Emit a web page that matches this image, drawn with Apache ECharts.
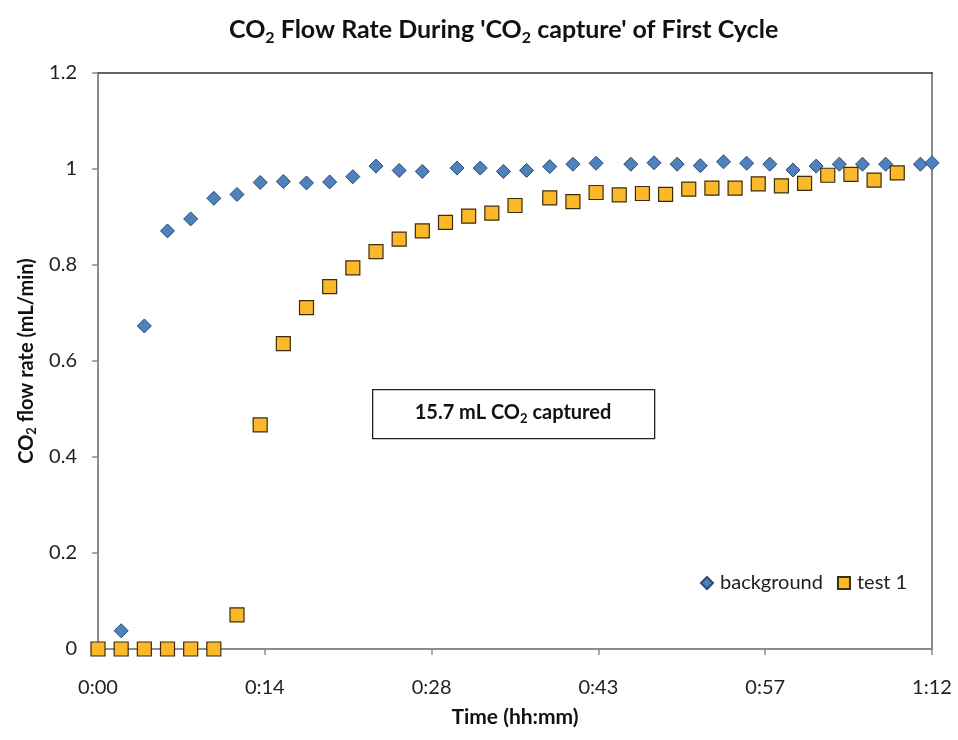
<!DOCTYPE html>
<html>
<head>
<meta charset="utf-8">
<script src="https://cdn.jsdelivr.net/npm/echarts@6/dist/echarts.min.js"></script>
<style>html,body{margin:0;padding:0;background:#fff;}#c{width:958px;height:740px;}</style>
</head>
<body>
<div id="c"></div>
<script>
// Time in minutes since start of capture
const bgTime = [2,4,6,8,10,12,14,16,18,20,22,24,26,28,31,33,35,37,39,41,43,46,48,50,52,54,56,58,60,62,64,66,68,71,72];
const bgFlow = [0.038,0.673,0.871,0.896,0.939,0.947,0.972,0.974,0.971,0.973,0.984,1.006,0.997,0.995,1.002,1.002,0.995,0.997,1.005,1.010,1.012,1.010,1.013,1.010,1.007,1.015,1.012,1.010,0.998,1.006,1.010,1.010,1.010,1.010,1.013];
const testTime = [0,2,4,6,8,10,12,14,16,18,20,22,24,26,28,30,32,34,36,39,41,43,45,47,49,51,53,55,57,59,61,63,65,67,69];
const testFlow = [0,0,0,0,0,0,0.071,0.467,0.636,0.711,0.755,0.794,0.828,0.854,0.871,0.889,0.902,0.908,0.924,0.940,0.932,0.951,0.946,0.949,0.947,0.958,0.960,0.960,0.969,0.965,0.970,0.987,0.989,0.977,0.992];
const xTickLabels = ['0:00','0:14','0:28','0:43','0:57','1:12'];
const seriesNames = ['background','test 1'];

const FONT = 'Lato';
const chart = echarts.init(document.getElementById('c'));
const axisGray = '#8c8c8c';
const bg = bgTime.map((t,i)=>[t,bgFlow[i]]);
const ts = testTime.map((t,i)=>[t,testFlow[i]]);

chart.setOption({
  animation:false,
  backgroundColor:'#fff',
  textStyle:{fontFamily:FONT},
  title:{
    text:"{n|CO}{s|2}{n| Flow Rate During 'CO}{s|2}{n| capture' of First Cycle}",
    left:224, top:9,
    textStyle:{
      rich:{
        n:{fontFamily:FONT,fontSize:25,fontWeight:'bold',color:'#111',lineHeight:32},
        s:{fontFamily:FONT,fontSize:16,fontWeight:'bold',color:'#111',lineHeight:17,verticalAlign:'bottom'}
      }
    }
  },
  grid:{left:98,right:26,top:73,bottom:91,containLabel:false},
  legend:{
    left:695, top:568,
    itemWidth:12,itemHeight:12,itemGap:14,
    textStyle:{fontFamily:FONT,fontSize:20,color:'#222',padding:[0,0,0,2]},
    data:[{name:seriesNames[0],icon:'diamond'},{name:seriesNames[1],icon:'rect'}]
  },
  xAxis:[{
    type:'value', min:0, max:72, interval:14.4,
    name:'Time (hh:mm)', nameLocation:'middle', nameGap:58,
    nameTextStyle:{fontFamily:FONT,fontSize:21,fontWeight:'bold',color:'#111'},
    axisLine:{show:true,onZero:false,lineStyle:{color:axisGray,width:2}},
    axisTick:{show:true,length:6,lineStyle:{color:axisGray,width:1.5}},
    axisLabel:{margin:29,fontFamily:FONT,fontSize:20,color:'#222',
      formatter:(v,i)=>xTickLabels[i]},
    splitLine:{show:false}
  },{
    type:'value', position:'top', min:0, max:72,
    axisLine:{show:true,onZero:false,lineStyle:{color:'#333',width:1.5}},
    axisTick:{show:false},axisLabel:{show:false},splitLine:{show:false}
  }],
  yAxis:[{
    type:'value', min:0, max:1.2, interval:0.2,
    name:'{n|CO}{s|2}{n| flow rate (mL/min)}', nameLocation:'middle', nameGap:57, nameRotate:90,
    nameTextStyle:{
      rich:{
        n:{fontFamily:FONT,fontSize:20,fontWeight:'bold',color:'#111',lineHeight:24},
        s:{fontFamily:FONT,fontSize:13,fontWeight:'bold',color:'#111',lineHeight:13,verticalAlign:'bottom'}
      }
    },
    axisLine:{show:true,onZero:false,lineStyle:{color:axisGray,width:2}},
    axisTick:{show:true,length:6,lineStyle:{color:axisGray,width:1.5}},
    axisLabel:{margin:21,fontFamily:FONT,fontSize:20,color:'#222'},
    splitLine:{show:false}
  },{
    type:'value', position:'right', min:0, max:1.2,
    axisLine:{show:true,onZero:false,lineStyle:{color:axisGray,width:2}},
    axisTick:{show:false},axisLabel:{show:false},splitLine:{show:false}
  }],
  series:[{
    name:seriesNames[0], type:'scatter', symbol:'diamond', symbolSize:14, clip:false,
    itemStyle:{color:'#4f81bd',borderColor:'#2b4a73',borderWidth:1,opacity:1},
    data:bg
  },{
    name:seriesNames[1], type:'scatter', symbol:'rect', symbolSize:14, clip:false,
    itemStyle:{color:'#fbb829',borderColor:'#3d2c0e',borderWidth:1.2,opacity:1},
    data:ts
  }],
  graphic:[{
    type:'rect', left:372, top:389, z:10,
    shape:{width:282,height:49},
    style:{fill:'#fff',stroke:'#222',lineWidth:1.3}
  },{
    type:'text', z:11, x:513, y:413,
    style:{
      text:'{b|15.7 mL CO}{s|2}{b| captured}',
      align:'center', verticalAlign:'middle',
      rich:{
        b:{fontFamily:FONT,fontSize:20,fontWeight:'bold',fill:'#111',lineHeight:24},
        s:{fontFamily:FONT,fontSize:13,fontWeight:'bold',fill:'#111',lineHeight:13,verticalAlign:'bottom'}
      }
    }
  }]
});
</script>
</body>
</html>
